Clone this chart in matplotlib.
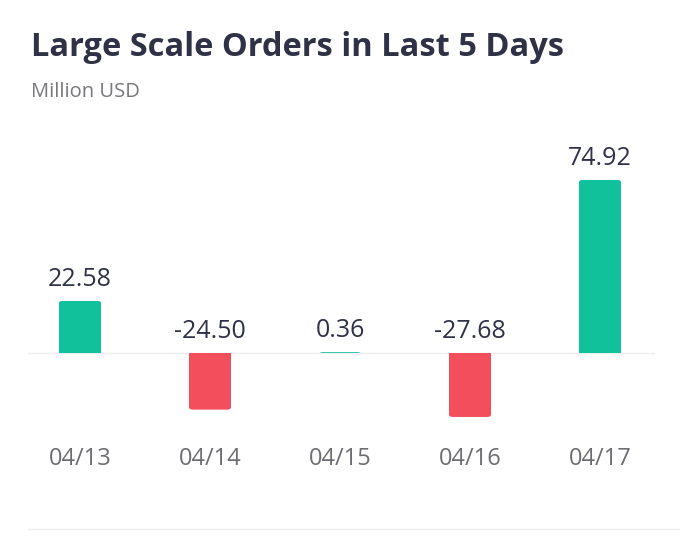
import matplotlib
matplotlib.use("Agg")
import matplotlib.pyplot as plt
from matplotlib.lines import Line2D
from matplotlib.patches import FancyBboxPatch

plt.rcParams['font.family'] = ['Open Sans', 'DejaVu Sans']

# Data
days = ["04/13", "04/14", "04/15", "04/16", "04/17"]
values = [22.58, -24.50, 0.36, -27.68, 74.92]

green = "#10c29b"
red = "#f24e5c"
dark = "#2f3246"
gray = "#6c6c72"
line_col = "#eeeeee"

W, H = 680, 549
fig = plt.figure(figsize=(W / 100, H / 100), dpi=100)

# axes placed in pixel terms
left, right, top, bottom = 28, 655, 170, 430
ax = fig.add_axes([left / W, 1 - bottom / H, (right - left) / W, (bottom - top) / H])

xlim = (-0.4, 4.423)
ylim = (-33.33, 79.22)
ax.set_xlim(*xlim)
ax.set_ylim(*ylim)

x = list(range(len(days)))
colors = [green if v >= 0 else red for v in values]
bars = ax.bar(x, values, width=0.33, color=colors, zorder=3)

# round the outer corners of each bar (about 4 px)
xpp = (xlim[1] - xlim[0]) / (right - left)
ypp = (ylim[1] - ylim[0]) / (bottom - top)
r = 4 * xpp
aspect = ypp / xpp
for b in bars:
    bx, by = b.get_x(), b.get_y()
    bw, bh = b.get_width(), b.get_height()
    ext = 4 * ypp
    y0, y1 = sorted([by, by + bh])
    if bh >= 0:
        y0 -= ext
    else:
        y1 += ext
    rp = FancyBboxPatch((bx, y0), bw, y1 - y0,
                        boxstyle=f"round,pad=0,rounding_size={r}",
                        mutation_aspect=aspect, facecolor=b.get_facecolor(),
                        edgecolor="none", zorder=3)
    ax.add_patch(rp)
    rp.set_clip_path(b)
    b.set_alpha(0)

ax.axhline(0, color=line_col, lw=1, zorder=2)

for xi, v in zip(x, values):
    ax.annotate(f"{v:.2f}", (xi, max(v, 0)), xytext=(0, 11), textcoords="offset points",
                ha="center", va="baseline", fontsize=18, color=dark)

ax.set_xticks(x)
ax.set_xticklabels(days, fontsize=17, color=gray)
ax.tick_params(axis="x", length=0, pad=12)
ax.set_yticks([])
for s in ax.spines.values():
    s.set_visible(False)

# title and subtitle
fig.text(31 / W, 1 - 56 / H, "Large Scale Orders in Last 5 Days", fontsize=23.5,
         fontweight="bold", color=dark, va="baseline", ha="left")
fig.text(31 / W, 1 - 97 / H, "Million USD", fontsize=14.5, color="#77777c",
         va="baseline", ha="left")

# bottom separator line
fig.add_artist(Line2D([28 / W, 1], [1 - 529 / H, 1 - 529 / H], color=line_col, lw=1))

fig.savefig("out.png", dpi=100)
